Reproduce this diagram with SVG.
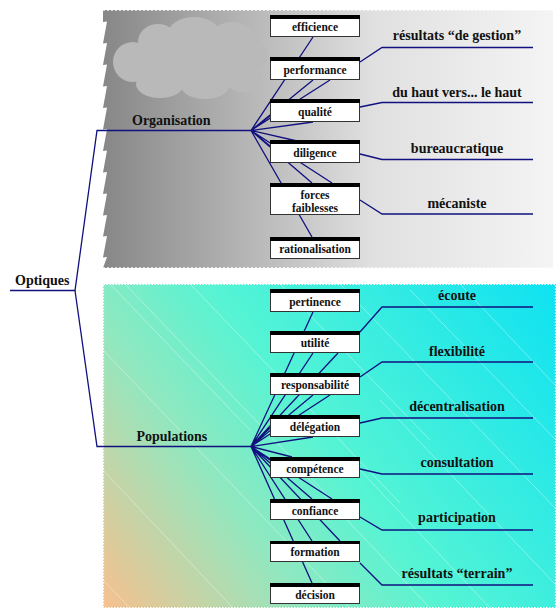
<svg xmlns="http://www.w3.org/2000/svg" width="559" height="608" viewBox="0 0 559 608">
<defs>
<linearGradient id="gTop" x1="103" y1="0" x2="553" y2="0" gradientUnits="userSpaceOnUse">
<stop offset="0" stop-color="#878787"/>
<stop offset="0.35" stop-color="#bababa"/>
<stop offset="0.6" stop-color="#e0e0e0"/>
<stop offset="1" stop-color="#f4f4f4"/>
</linearGradient>
<linearGradient id="gBot" x1="103" y1="608" x2="556" y2="284" gradientUnits="userSpaceOnUse">
<stop offset="0" stop-color="#f8c08e"/>
<stop offset="0.3" stop-color="#8fe8c0"/>
<stop offset="0.5" stop-color="#55f4d4"/>
<stop offset="1" stop-color="#0ee2f2"/>
</linearGradient>
<style>
.ln{stroke:#10107f;stroke-width:1.3;fill:none}
.box{fill:#fff;stroke:#333;stroke-width:1}
.bar{fill:#000}
text{font-family:'Liberation Serif','DejaVu Serif','Times New Roman',serif;font-weight:bold;fill:#111}
.bt{font-size:11.5px;text-anchor:middle}
.lt{font-size:14px;text-anchor:middle}
.ht{font-size:14px}
.st{stroke:#fff;stroke-width:0.8;opacity:0.45}
</style>
</defs>

<g id="backgrounds">
<path d="M103,10 H553 V268 H103 L107,257 L103,257.5 L107,236 L103,236.5 L107,215 L103,215.5 L107,193.5 L103,194 L107,172 L103,172.5 L107,150.5 L103,151 L107,129 L103,129.5 L107,107.5 L103,108 L107,86 L103,86.5 L107,64.5 L103,65 L107,43 L103,43.5 L107,21.5 L103,22 Z" fill="url(#gTop)"/>
<line x1="103" y1="10.5" x2="553" y2="10.5" stroke="#fff" stroke-width="1" stroke-dasharray="2,2" opacity="0.7"/>
<line x1="103" y1="267.5" x2="553" y2="267.5" stroke="#fff" stroke-width="1" stroke-dasharray="2,2" opacity="0.7"/>
<g id="cloud" fill="#b9b9b9">
<ellipse cx="133" cy="62" rx="20" ry="20"/>
<ellipse cx="158" cy="42" rx="20" ry="18"/>
<ellipse cx="194" cy="34" rx="26" ry="17"/>
<ellipse cx="232" cy="38" rx="22" ry="16"/>
<ellipse cx="252" cy="56" rx="16" ry="14"/>
<ellipse cx="243" cy="78" rx="18" ry="14"/>
<ellipse cx="160" cy="84" rx="24" ry="14"/>
<ellipse cx="205" cy="86" rx="24" ry="13"/>
<ellipse cx="195" cy="62" rx="55" ry="28"/>
</g>
<rect x="103" y="284" width="453" height="324" fill="url(#gBot)"/>
<g id="streaks">
<line class="st" x1="110" y1="284" x2="250" y2="430"/>
<line class="st" x1="125" y1="284" x2="330" y2="498"/>
<line class="st" x1="190" y1="284" x2="400" y2="503"/>
<line class="st" x1="280" y1="284" x2="430" y2="440"/>
<line class="st" x1="103" y1="350" x2="350" y2="608"/>
<line class="st" x1="103" y1="470" x2="233" y2="608"/>
<line class="st" x1="340" y1="284" x2="556" y2="509"/>
<line class="st" x1="410" y1="290" x2="556" y2="440"/>
<line class="st" x1="380" y1="400" x2="556" y2="585"/>
<line class="st" x1="360" y1="470" x2="490" y2="608"/>
<line class="st" x1="300" y1="470" x2="430" y2="608"/>
<line class="st" x1="460" y1="284" x2="556" y2="386"/>
<line class="st" x1="103" y1="580" x2="130" y2="608"/>
</g>
<rect x="103.5" y="284.5" width="452" height="323" fill="none" stroke="#fff" stroke-width="1.2" stroke-dasharray="1.5,1.5"/>
</g>

<g id="connectors">
<path class="ln" d="M10,290.5 H75 L97,130.5 H251"/>
<path class="ln" d="M75,290.5 L97,446.5 H251"/>
<path class="ln" d="M251,130.5 L313,37 M251,130.5 L313,80 M251,130.5 L330,80 M251,130.5 L270,116 M251,130.5 L313,122 M251,130.5 L297,141 M251,130.5 L270,146 M251,130.5 L312,183 M251,130.5 L332,183 M251,130.5 L312,237"/>
<path class="ln" d="M251,446.5 L313,312 M251,446.5 L313,353 M251,446.5 L338,353 M251,446.5 L313,395 M251,446.5 L330,395 M251,446.5 L270,428 M251,446.5 L313,437 M251,446.5 L292,457 M251,446.5 L270,460 M251,446.5 L312,499 M251,446.5 L332,499 M251,446.5 L312,541 M251,446.5 L340,541 M251,446.5 L312,583"/>
<path class="ln" d="M360,62 L382,47.5 H533"/>
<path class="ln" d="M360,107 L382,102.5 H533"/>
<path class="ln" d="M360,154 L382,159.5 H533"/>
<path class="ln" d="M360,200 L382,214 H533"/>
<path class="ln" d="M360,332 L382,307 H533"/>
<path class="ln" d="M360,377 L382,362 H533"/>
<path class="ln" d="M360,423 L382,418 H533"/>
<path class="ln" d="M360,469 L382,474 H533"/>
<path class="ln" d="M360,517 L382,530 H533"/>
<path class="ln" d="M360,563 L382,585 H533"/>
</g>

<g id="optiques"><text class="ht" x="15" y="285">Optiques</text></g>
<g id="organisation"><text class="ht" x="132" y="124.5">Organisation</text></g>
<g id="populations"><text class="ht" x="136.5" y="441">Populations</text></g>

<g id="efficience"><rect class="box" x="270.5" y="15.5" width="89" height="21"/><rect class="bar" x="270" y="15" width="90" height="4"/><text class="bt" x="315" y="31">efficience</text></g>
<g id="performance"><rect class="box" x="270.5" y="57.5" width="89" height="22"/><rect class="bar" x="270" y="57" width="90" height="4"/><text class="bt" x="315" y="73.5">performance</text></g>
<g id="qualite"><rect class="box" x="270.5" y="99.5" width="89" height="22"/><rect class="bar" x="270" y="99" width="90" height="4"/><text class="bt" x="315" y="115.5">qualité</text></g>
<g id="diligence"><rect class="box" x="270.5" y="140.5" width="89" height="22"/><rect class="bar" x="270" y="140" width="90" height="4"/><text class="bt" x="315" y="157">diligence</text></g>
<g id="forces"><rect class="box" x="270.5" y="183.5" width="89" height="31"/><rect class="bar" x="270" y="183" width="90" height="4"/><text class="bt" x="315" y="198.5">forces</text><text class="bt" x="315" y="211.5">faiblesses</text></g>
<g id="rationalisation"><rect class="box" x="270.5" y="237.5" width="89" height="21"/><rect class="bar" x="270" y="237" width="90" height="4"/><text class="bt" x="315" y="253">rationalisation</text></g>

<g id="r1"><text class="lt" x="457" y="40">résultats “de gestion”</text></g>
<g id="r2"><text class="lt" x="457" y="97">du haut vers... le haut</text></g>
<g id="r3"><text class="lt" x="457" y="152.5">bureaucratique</text></g>
<g id="r4"><text class="lt" x="457" y="208">mécaniste</text></g>

<g id="pertinence"><rect class="box" x="270.5" y="289.5" width="89" height="22"/><rect class="bar" x="270" y="289" width="90" height="4"/><text class="bt" x="315" y="305.5">pertinence</text></g>
<g id="utilite"><rect class="box" x="270.5" y="331.5" width="89" height="21"/><rect class="bar" x="270" y="331" width="90" height="4"/><text class="bt" x="315" y="347">utilité</text></g>
<g id="responsabilite"><rect class="box" x="270.5" y="373.5" width="89" height="21"/><rect class="bar" x="270" y="373" width="90" height="4"/><text class="bt" x="315" y="389">responsabilité</text></g>
<g id="delegation"><rect class="box" x="270.5" y="415.5" width="89" height="21"/><rect class="bar" x="270" y="415" width="90" height="4"/><text class="bt" x="315" y="431">délégation</text></g>
<g id="competence"><rect class="box" x="270.5" y="457.5" width="89" height="20"/><rect class="bar" x="270" y="457" width="90" height="4"/><text class="bt" x="315" y="472.5">compétence</text></g>
<g id="confiance"><rect class="box" x="270.5" y="499.5" width="89" height="20"/><rect class="bar" x="270" y="499" width="90" height="4"/><text class="bt" x="315" y="514.5">confiance</text></g>
<g id="formation"><rect class="box" x="270.5" y="541.5" width="89" height="20"/><rect class="bar" x="270" y="541" width="90" height="3"/><text class="bt" x="315" y="556">formation</text></g>
<g id="decision"><rect class="box" x="270.5" y="583.5" width="89" height="20"/><rect class="bar" x="270" y="583" width="90" height="4"/><text class="bt" x="315" y="598.5">décision</text></g>

<g id="b1"><text class="lt" x="457" y="300">écoute</text></g>
<g id="b2"><text class="lt" x="457" y="356">flexibilité</text></g>
<g id="b3"><text class="lt" x="457" y="411">décentralisation</text></g>
<g id="b4"><text class="lt" x="457" y="466.5">consultation</text></g>
<g id="b5"><text class="lt" x="457" y="522">participation</text></g>
<g id="b6"><text class="lt" x="457" y="577.5">résultats “terrain”</text></g>
</svg>
